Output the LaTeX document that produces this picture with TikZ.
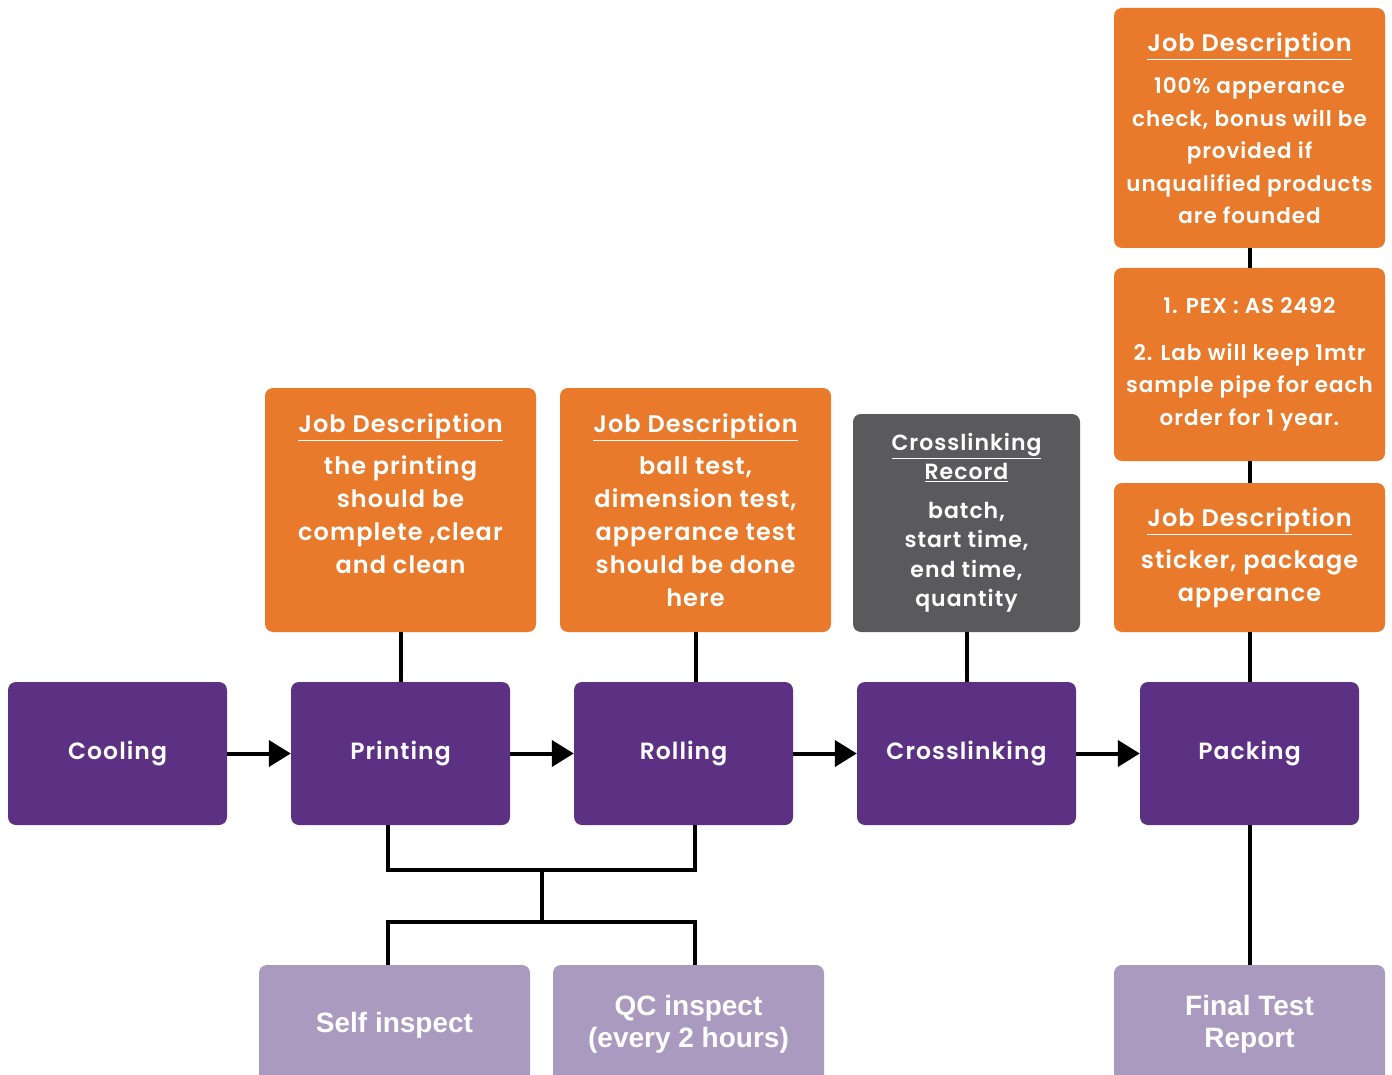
\documentclass[tikz,border=0pt]{standalone}
\usepackage{fontspec}
\setmainfont{Poppins}[BoldFont={Poppins SemiBold},LetterSpace=4.5]
\newfontfamily\arialb{Liberation Sans}
\usetikzlibrary{arrows.meta}
\definecolor{orng}{HTML}{E97A2B}
\definecolor{purp}{HTML}{5C3183}
\definecolor{lpurp}{HTML}{AA9ABF}
\definecolor{gry}{HTML}{5A5A5C}
\newcommand{\ttl}[1]{\underline{#1}}
\begin{document}
\begin{tikzpicture}[x=1pt,y=-1pt,
  proc/.style={fill=purp, rounded corners=8pt, minimum width=219pt, minimum height=143pt,
    text=white, font=\bfseries\fontsize{23.5}{30}\selectfont, inner sep=0pt},
  jd/.style={fill=orng, rounded corners=8pt, text=white, align=center, inner sep=0pt,
    font=\bfseries\fontsize{24}{33}\selectfont},
  rec/.style={fill=gry, rounded corners=8pt, text=white, align=center, inner sep=0pt,
    font=\bfseries\fontsize{22}{29.5}\selectfont},
  res/.style={fill=lpurp, rounded corners=8pt, text=white, align=center, inner sep=0pt,
    minimum width=271pt, minimum height=120pt, font=\arialb\bfseries\fontsize{28}{32}\selectfont},
  conn/.style={line width=4pt, black},
  arr/.style={line width=4pt, black, -{Triangle[length=22pt,width=26pt]}}
]
\useasboundingbox (0,0) rectangle (1392,1075);

% process boxes
\node[proc] (cool)  at (117.5,753.5) {Cooling};
\node[proc] (print) at (400.5,753.5) {Printing};
\node[proc] (roll)  at (683.5,753.5) {Rolling};
\node[proc] (cross) at (966.5,753.5) {Crosslinking};
\node[proc] (pack)  at (1249.5,753.5) {Packing};

% description boxes
\node[jd, minimum width=271pt, minimum height=244pt] (jd1) at (400.5,510)
  {\ttl{Job Description}\\[9pt]the printing\\should be\\complete ,clear\\and clean\\\mbox{}};
\node[jd, minimum width=271pt, minimum height=244pt] (jd2) at (695.5,510)
  {\ttl{Job Description}\\[9pt]ball test,\\dimension test,\\apperance test\\should be done\\here};
\node[rec, minimum width=227pt, minimum height=218pt] (rec) at (966.5,523)
  {\ttl{Crosslinking}\\\ttl{Record}\\[9pt]batch,\\start time,\\end time,\\quantity};
\node[jd, minimum width=271pt, minimum height=240pt, font=\bfseries\fontsize{21.5}{32.5}\selectfont] (jdtop) at (1249.5,128)
  {{\fontsize{24}{32}\selectfont\ttl{Job Description}}\\[10pt]100\% apperance\\check, bonus will be\\provided if\\unqualified products\\are founded};
\node[jd, minimum width=271pt, minimum height=193pt, font=\bfseries\fontsize{21.5}{32.5}\selectfont] (pex) at (1249.5,364.5)
  {1. PEX\hspace{6pt}:\hspace{6pt}AS 2492\\[14pt]2. Lab will keep 1mtr\\sample pipe for each\\order for 1 year.};
\node[jd, minimum width=271pt, minimum height=149pt] (jdpack) at (1249.5,557.5)
  {\ttl{Job Description}\\[9pt]sticker, package\\apperance};

% result boxes
\node[res] (self)  at (394.5,1025) {\raisebox{4pt}{Self inspect}};
\node[res] (qc)    at (688.5,1025) {\raisebox{5pt}{\begin{tabular}{@{}c@{}}QC inspect\\(every 2 hours)\end{tabular}}};
\node[res] (final) at (1249.5,1025) {\raisebox{2pt}{\begin{tabular}{@{}c@{}}Final Test\\Report\end{tabular}}};

% flow arrows
\draw[arr] (cool.east) -- (print.west);
\draw[arr] (print.east) -- (roll.west);
\draw[arr] (roll.east) -- (cross.west);
\draw[arr] (cross.east) -- (pack.west);

% description links
\draw[conn] (jd1.south) -- (print.north);
\draw[conn] (jd2.south) -- (jd2.south |- roll.north);
\draw[conn] (rec.south) -- (cross.north);
\draw[conn] (jdtop.south) -- (pex.north);
\draw[conn] (pex.south) -- (jdpack.north);
\draw[conn] (jdpack.south) -- (pack.north);
\draw[conn] (pack.south) -- (final.north);

% inspection tree
\coordinate (tl) at (388,870);
\coordinate (tr) at (695,870);
\coordinate (tm) at (542,870);
\coordinate (bm) at (542,922);
\draw[conn] (print.south -| tl) -- (tl) -- (tr) -- (roll.south -| tr);
\draw[conn] (tm) -- (bm);
\draw[conn] (self.north -| tl) |- (bm) -| (qc.north -| tr);
\end{tikzpicture}
\end{document}
